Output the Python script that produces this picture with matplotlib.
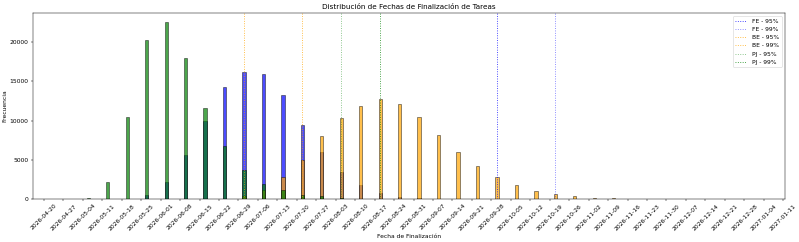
import matplotlib
matplotlib.use('Agg')
import matplotlib.pyplot as plt
import matplotlib.dates as mdates
import numpy as np
import pandas as pd

# semanas (lunes) con datos
semanas = ['2026-05-04', '2026-05-11', '2026-05-18', '2026-05-25', '2026-06-01', '2026-06-08',
           '2026-06-15', '2026-06-22', '2026-06-29', '2026-07-06', '2026-07-13', '2026-07-20',
           '2026-07-27', '2026-08-03', '2026-08-10', '2026-08-17', '2026-08-24', '2026-08-31',
           '2026-09-07', '2026-09-14', '2026-09-21', '2026-09-28', '2026-10-05', '2026-10-12',
           '2026-10-19', '2026-10-26', '2026-11-02', '2026-11-09', '2026-11-16']

fe = [0, 0, 20, 550, 2200, 5600, 10000, 14300, 16200, 15900, 13300, 9400,
      6000, 3500, 1800, 800, 200, 100, 0, 0, 0, 0, 0, 0, 0, 0, 0, 0, 0]
be = [0, 0, 0, 0, 0, 0, 20, 50, 400, 1200, 2750, 5000,
      8000, 10300, 11900, 12800, 12100, 10500, 8200, 6050, 4150, 2800, 1750, 1000,
      600, 320, 150, 80, 30]
pj = [100, 2200, 10400, 20300, 22600, 18000, 11600, 6800, 3700, 1900, 1100, 550,
      330, 120, 40, 10, 0, 0, 0, 0, 0, 0, 0, 0, 0, 0, 0, 0, 0]

# percentiles (fechas)
fe_95, fe_99 = '2026-09-30', '2026-10-21'
be_95, be_99 = '2026-07-01', '2026-07-22'
pj_95, pj_99 = '2026-08-05', '2026-08-19'

fechas = pd.to_datetime(semanas) + pd.Timedelta(days=2)

dpi = 43.5
fig, ax = plt.subplots(figsize=(799 / dpi, 242 / dpi), dpi=dpi)
fig.subplots_adjust(left=0.041, right=0.982, top=0.946, bottom=0.178)

w = 1.2
ax.bar(fechas, fe, width=w, color='blue', alpha=0.7, edgecolor='black', linewidth=1)
ax.bar(fechas, be, width=w, color='orange', alpha=0.7, edgecolor='black', linewidth=1)
ax.bar(fechas, pj, width=w, color='green', alpha=0.7, edgecolor='black', linewidth=1)

ax.axvline(pd.Timestamp(fe_95), color='blue', linestyle=':', alpha=0.8, label='FE - 95%')
ax.axvline(pd.Timestamp(fe_99), color='blue', linestyle=':', alpha=0.5, label='FE - 99%')
ax.axvline(pd.Timestamp(be_95), color='orange', linestyle=':', alpha=0.8, label='BE - 95%')
ax.axvline(pd.Timestamp(be_99), color='orange', linestyle=':', alpha=0.8, label='BE - 99%')
ax.axvline(pd.Timestamp(pj_95), color='green', linestyle=':', alpha=0.5, label='PJ - 95%')
ax.axvline(pd.Timestamp(pj_99), color='green', linestyle=':', alpha=0.8, label='PJ - 99%')

ticks = pd.date_range('2026-04-20', '2027-01-11', freq='7D')
ax.set_xticks(ticks)
ax.xaxis.set_major_formatter(mdates.DateFormatter('%Y-%m-%d'))
plt.setp(ax.get_xticklabels(), rotation=45)
ax.set_xlim(pd.Timestamp('2026-04-16'), pd.Timestamp('2027-01-11 12:00'))

ax.set_title('Distribución de Fechas de Finalización de Tareas')
ax.set_xlabel('Fecha de Finalización')
ax.set_ylabel('Frecuencia')
ax.legend(loc='upper right')

plt.savefig('out.png')
